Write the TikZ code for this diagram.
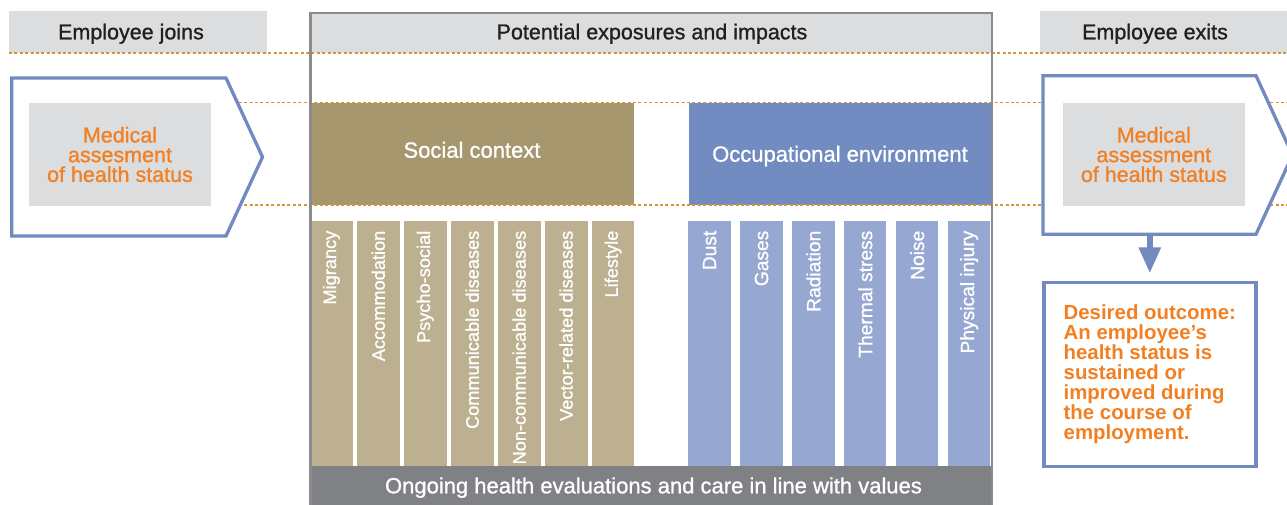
\documentclass[tikz,border=0pt]{standalone}
\usepackage{fontspec}
\setmainfont{Liberation Sans}
\newfontfamily\medium{Liberation Sans}[FakeBold=1]
\usetikzlibrary{arrows.meta}

\definecolor{hdrgray}{RGB}{220,221,223}
\definecolor{framegray}{RGB}{138,139,142}
\definecolor{inkdark}{RGB}{35,31,32}
\definecolor{socdark}{RGB}{166,151,111}
\definecolor{soclight}{RGB}{189,176,145}
\definecolor{occdark}{RGB}{114,139,192}
\definecolor{occlight}{RGB}{150,168,209}
\definecolor{chevblue}{RGB}{114,138,192}
\definecolor{orangetxt}{RGB}{242,128,34}
\definecolor{dotgold}{RGB}{212,150,50}
\definecolor{ongoinggray}{RGB}{128,129,132}

\begin{document}
\begin{tikzpicture}[x=1pt,y=-1pt,
    hdr/.style={anchor=base,inner sep=0,text=inkdark,font=\medium\fontsize{21.5}{24}\selectfont},
    band/.style={anchor=north west,inner sep=0,outer sep=0,minimum height=102.3},
    bandtext/.style={anchor=base,inner sep=0,text=white,font=\medium\fontsize{22}{24}\selectfont},
    bar/.style={anchor=north,inner sep=0,outer sep=0,minimum height=245},
    vlab/.style={rotate=90,anchor=east,inner sep=0,text=white},
    guide/.style={dotgold,line width=1.4pt,dash pattern=on 3pt off 2.4pt},
    chev/.style={fill=white,draw=chevblue,line width=3.3pt,line join=miter},
    medbox/.style={fill=hdrgray,minimum height=103,inner sep=0,align=center,text=orangetxt,font=\medium\fontsize{21.5}{19.7}\selectfont},
    outbox/.style={draw=chevblue,line width=3.6pt,outer sep=0,inner sep=0,align=left,text=orangetxt,font=\bfseries\fontsize{20.4}{20}\selectfont},
    flow/.style={chevblue,line width=6pt,-{Triangle[width=21pt,length=26pt]}}]
  \useasboundingbox (0,0) rectangle (1287,504);
  \clip (0,0) rectangle (1287,504);

  % header strip
  \fill[hdrgray] (9,11) rectangle (267,53);
  \fill[hdrgray] (310,12) rectangle (992,53);
  \fill[hdrgray] (1040,11) rectangle (1287,53);
  \node[hdr] (joins) at (131,39.3) {Employee joins};
  \node[hdr] (exposures) at (652,39.3) {Potential exposures and impacts};
  \node[hdr] (exits) at (1155,39.3) {Employee exits};

  % the two groups
  \node[band,fill=socdark,minimum width=323] (social) at (311,102.7) {};
  \node[band,fill=occdark,minimum width=304] (occup) at (688.5,102.7) {};
  \node[bandtext] (socialtext) at (472,157.7) {Social context};
  \node[bandtext] (occuptext) at (840,161.7) {Occupational environment};

  \foreach \lab [count=\i from 0] in {Migrancy,Accommodation,Psycho-social,Communicable diseases,Non-communicable diseases,Vector-related diseases,Lifestyle}{
    \node[bar,fill=soclight,minimum width=42.7] (s\i) at (331.4+46.95*\i,221) {};
    \node[vlab,font=\medium\fontsize{18.2}{20}\selectfont] (sl\i) at ([yshift=-9.5pt]s\i.north) {\lab};
  }
  \foreach \lab [count=\i from 0] in {Dust,Gases,Radiation,Thermal stress,Noise,Physical injury}{
    \node[bar,fill=occlight,minimum width=42.3] (o\i) at (709.6+51.9*\i,221) {};
    \node[vlab,font=\medium\fontsize{19.2}{21}\selectfont] (ol\i) at ([yshift=-9.5pt]o\i.north) {\lab};
  }

  \node[anchor=north west,fill=ongoinggray,minimum width=682,minimum height=40,inner sep=0] (ongoing) at (310,466) {};
  \node[bandtext] (ongoingtext) at (653.5,493.3) {Ongoing health evaluations and care in line with values};

  % guide lines
  \draw[guide] (9,53) -- (1287,53);
  \draw[guide] (12,102.7) -- (1287,102.7);
  \draw[guide] (12,205) -- (1287,205);

  % entry and exit
  \draw[chev] (11.7,78) -- (226,78) -- (262.5,157) -- (226,236) -- (11.7,236) -- cycle;
  \draw[chev] (1043,75.7) -- (1256,75.7) -- (1292.5,155) -- (1256,234.3) -- (1043,234.3) -- cycle;
  \node[medbox,minimum width=182] (joinmed) at (120,154.5) {Medical\\assesment\\of health status};
  \node[medbox,minimum width=182.5] (exitmed) at (1153.8,154.5) {Medical\\assessment\\of health status};

  \draw[framegray,line width=2.5pt] (310.3,12.8) rectangle (991.9,520);

  \node[outbox,minimum width=211.8,minimum height=184] (outcome) at (1149.8,374.3) {Desired outcome:\\An employee’s\\health status is\\sustained or\\improved during\\the course of\\employment.};
  \coordinate (exitbot) at (1149.8,234.3);
  \draw[flow,shorten >=9pt] (exitbot) -- (outcome);
\end{tikzpicture}
\end{document}
